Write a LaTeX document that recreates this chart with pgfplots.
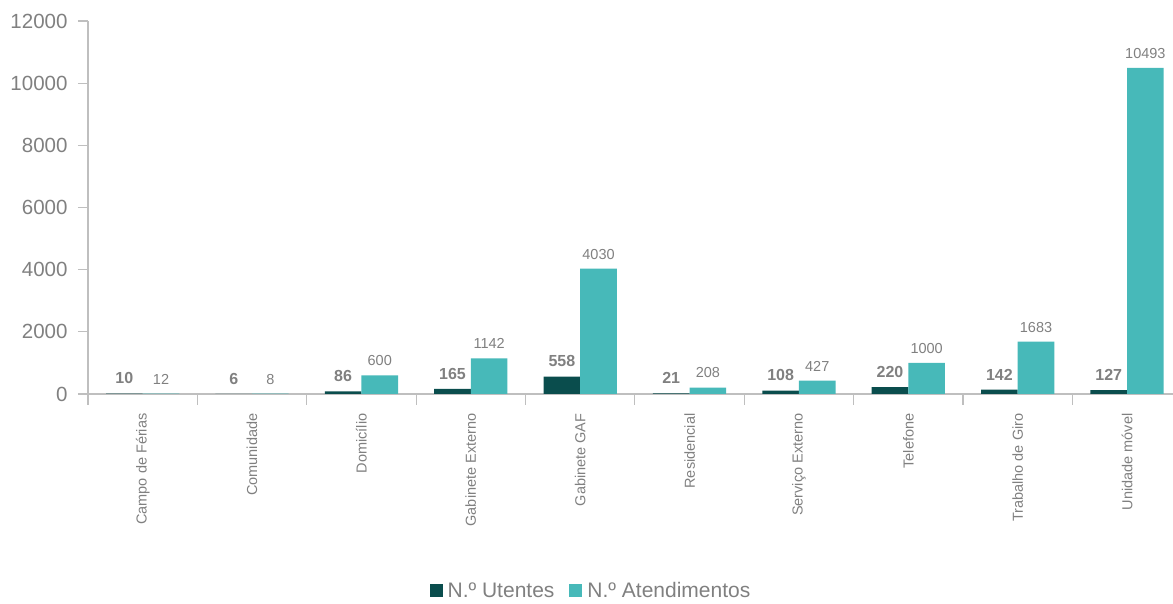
\documentclass[border=0pt]{standalone}
\usepackage{pgfplots}
\pgfplotsset{compat=1.18}
\usepackage{fontspec}
\setmainfont{Liberation Sans}
\definecolor{dk}{RGB}{10,77,77}
\definecolor{lt}{RGB}{71,185,185}
\definecolor{tx}{RGB}{128,128,128}
\definecolor{axc}{RGB}{191,191,191}
\begin{document}
\begin{tikzpicture}[x=1pt,y=1pt]
\useasboundingbox (0,0) rectangle (1173,604);
\begin{axis}[
  at={(88pt,210pt)}, anchor=south west,
  scale only axis, width=1085pt, height=373pt,
  xmin=-0.5, xmax=9.42, ymin=0, ymax=12000,
  ybar=0pt, bar width=0.335,
  axis x line*=bottom, axis y line*=left,
  axis line style={-, axc, line width=1.2pt},
  tick align=outside,
  scaled y ticks=false,
  xtick={0,...,9},
  xticklabels={Campo de Férias, Comunidade, Domicílio, Gabinete Externo, Gabinete GAF, Residencial, Serviço Externo, Telefone, Trabalho de Giro, Unidade móvel},
  major x tick style={draw=none},
  minor xtick={-0.5,0.5,...,9.5},
  minor tick length=11pt,
  major tick length=10pt,
  every tick/.style={axc, line width=1.2pt},
  ytick={0,2000,...,12000},
  xticklabel shift=6pt,
  yticklabel shift=7pt,
  /pgf/number format/.cd, 1000 sep={}, assume math mode=true, /pgfplots/.cd,
  x tick label style={rotate=90, anchor=east, font=\fontsize{14.5}{16}\selectfont, text=tx},
  y tick label style={font=\fontsize{20.5}{22}\selectfont, text=tx},
  legend style={at={(0.4636,-0.527)}, anchor=center, draw=none, fill=none,
    legend columns=2, font=\fontsize{21}{23}\selectfont, text=tx,
    /tikz/every even column/.append style={column sep=13pt}},
  legend image code/.code={\fill[#1] (0pt,-6.5pt) rectangle (13pt,6.5pt); \path (16pt,0pt);},
]
\addplot[fill=dk, draw=none, nodes near coords,
  every node near coord/.append style={font=\bfseries\fontsize{16}{18}\selectfont, text=tx, yshift=6pt}]
  coordinates {(0,10) (1,6) (2,86) (3,165) (4,558) (5,21) (6,108) (7,220) (8,142) (9,127)};
\addplot[fill=lt, draw=none, nodes near coords,
  every node near coord/.append style={font=\fontsize{14.5}{16}\selectfont, text=tx, yshift=6pt}]
  coordinates {(0,12) (1,8) (2,600) (3,1142) (4,4030) (5,208) (6,427) (7,1000) (8,1683) (9,10493)};
\legend{N.º Utentes, N.º Atendimentos}
\end{axis}
\end{tikzpicture}
\end{document}
